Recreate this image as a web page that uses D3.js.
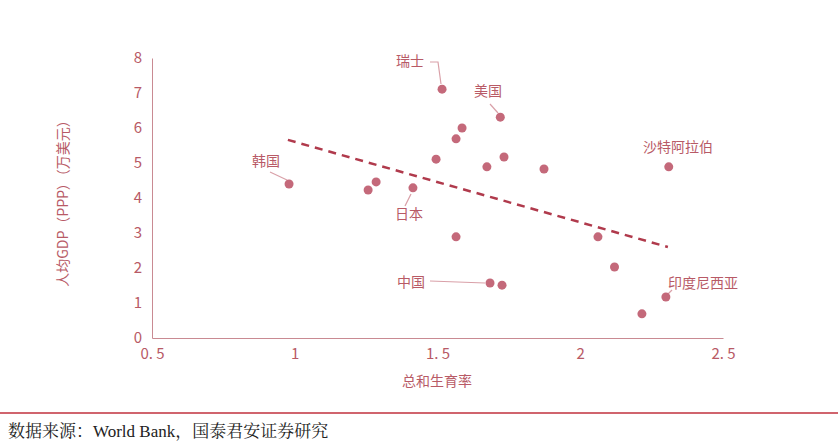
<!DOCTYPE html><html><head><meta charset="utf-8"><script src="https://cdn.jsdelivr.net/npm/d3@7"></script>
<style>body{margin:0;background:#fff}</style></head><body><svg id="c" width="838" height="447"></svg><script>
const xs=[0.98,1.516,1.72,1.586,1.565,1.495,1.733,1.673,1.873,2.31,1.257,1.285,1.414,1.565,2.062,2.12,1.684,1.726,2.30,2.216];
const ys=[4.4,7.11,6.31,6.0,5.69,5.11,5.17,4.89,4.83,4.89,4.23,4.46,4.29,2.89,2.89,2.03,1.57,1.51,1.17,0.69];
const labels=[{i:0,t:"韩国",lx:252,ly:166,path:[[270,172],[287,180]]},{i:1,t:"瑞士",lx:396,ly:66,path:[[430,62],[438,62],[441,84]]},{i:2,t:"美国",lx:474,ly:96,path:[[490,104],[498,113]]},{i:12,t:"日本",lx:395,ly:219,path:[[405,206],[411,194]]},{i:16,t:"中国",lx:397,ly:287,path:[[430,281],[485,283]]},{i:9,t:"沙特阿拉伯",lx:643,ly:152,path:null},{i:18,t:"印度尼西亚",lx:668,ly:288,path:[[672,290],[667,295]]}];
const trendX=[0.976,2.307],trendY=[5.66,2.6];
const xTicks=[0.5,1,1.5,2,2.5],yTicks=[0,1,2,3,4,5,6,7,8];
const svg=d3.select("#c");
const x=d3.scaleLinear().domain([0.5,2.5]).range([152,723]);
const y=d3.scaleLinear().domain([0,8]).range([338,58]);
const col="#b85a66",font="'Noto Sans CJK SC',sans-serif";
const xa=svg.append("g").attr("transform","translate(0,338)").call(d3.axisBottom(x).tickValues(xTicks).tickFormat(d=>d===1||d===2?d:String(d).replace(".",". ")).tickSize(0).tickPadding(10));
const ya=svg.append("g").attr("transform","translate(152,0)").call(d3.axisLeft(y).tickValues(yTicks).tickSize(0).tickPadding(10));
[xa,ya].forEach(a=>{a.select(".domain").attr("stroke","#c98a92");a.selectAll("text").attr("fill",col).attr("font-size",15).attr("font-family",font);});
svg.append("line").attr("x1",x(trendX[0])).attr("y1",y(trendY[0])).attr("x2",x(trendX[1])).attr("y2",y(trendY[1])).attr("stroke","#b03a4c").attr("stroke-width",2.5).attr("stroke-dasharray","8,6");
labels.forEach(l=>{if(l.path)svg.append("polyline").attr("points",l.path.map(p=>p.join(",")).join(" ")).attr("fill","none").attr("stroke","#d9a0a8").attr("stroke-width",1.2);
svg.append("text").attr("x",l.lx).attr("y",l.ly).attr("fill",col).attr("font-size",14).attr("font-family",font).text(l.t);});
svg.selectAll("circle").data(xs).join("circle").attr("cx",d=>x(d)).attr("cy",(d,i)=>y(ys[i])).attr("r",4.5).attr("fill","#c4697a");
svg.append("text").attr("x",437).attr("y",386).attr("text-anchor","middle").attr("fill",col).attr("font-size",14).attr("font-family",font).text("总和生育率");
svg.append("text").attr("transform","translate(68,200) rotate(-90)").attr("text-anchor","middle").attr("fill",col).attr("font-size",14).attr("font-family",font).text("人均GDP（PPP）（万美元）");
svg.append("line").attr("x1",0).attr("x2",838).attr("y1",413).attr("y2",413).attr("stroke","#c0303c").attr("stroke-width",1.5);
svg.append("text").attr("x",8).attr("y",437).attr("fill","#222").attr("font-size",17).attr("font-family","'Liberation Serif','Noto Serif CJK SC','Noto Sans CJK SC',serif").text("数据来源：World Bank，国泰君安证券研究");
</script></body></html>
